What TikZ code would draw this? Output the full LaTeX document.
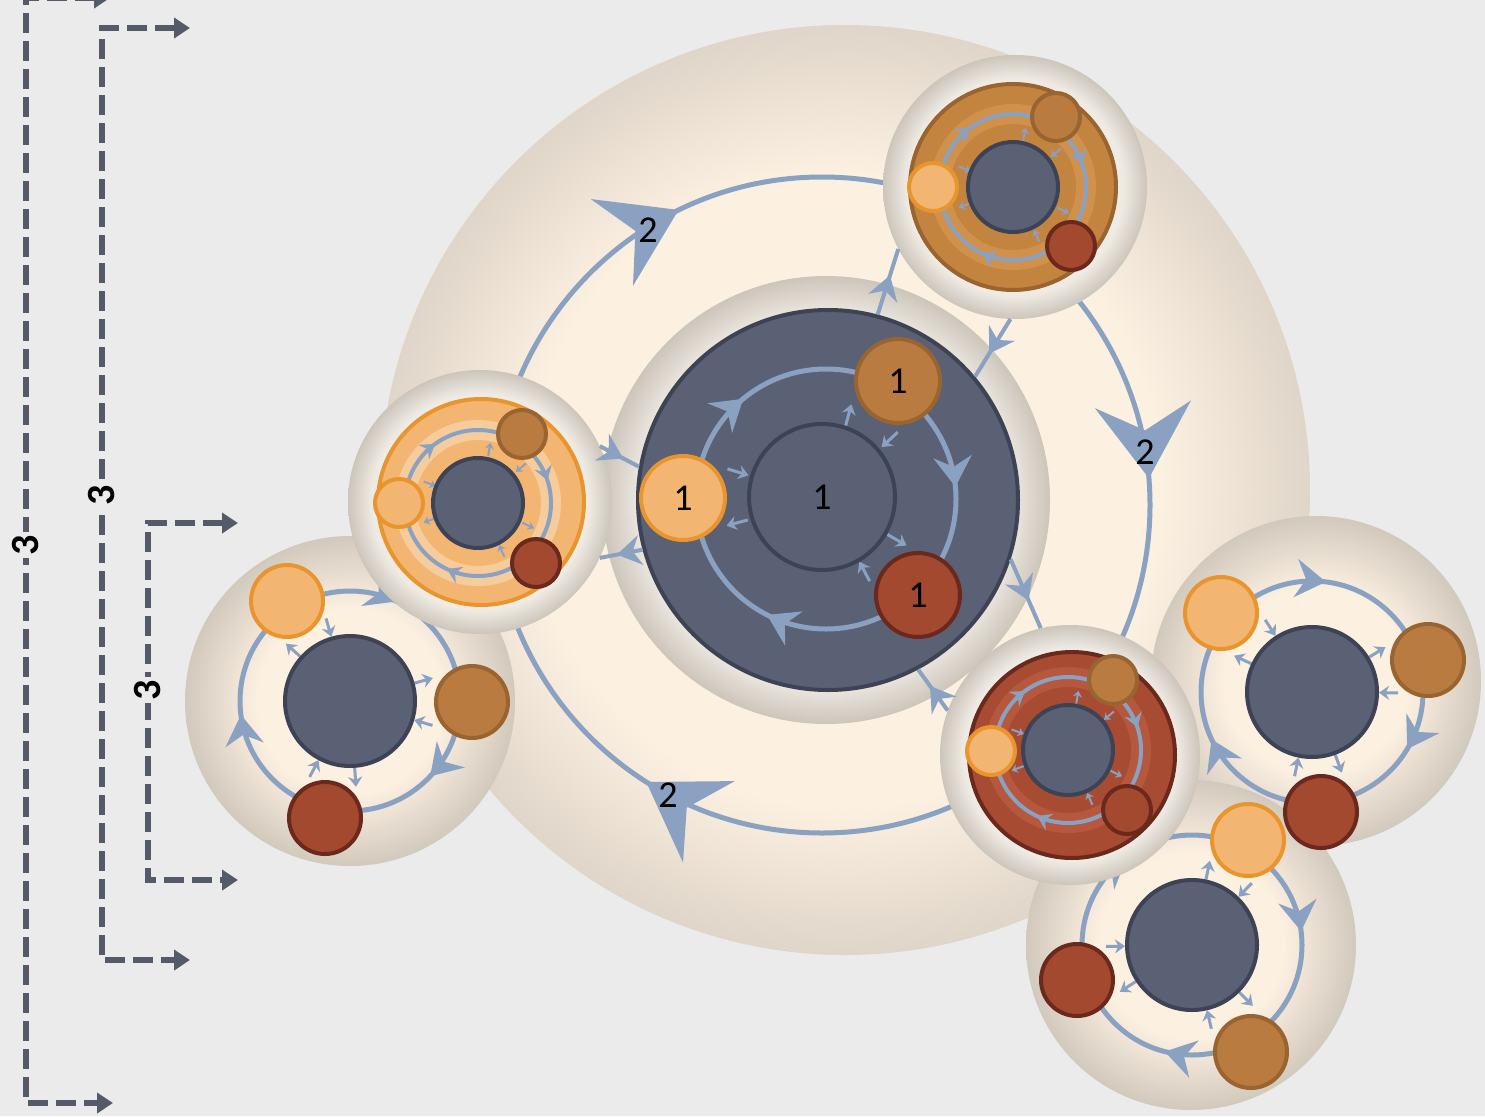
\documentclass[tikz,border=0pt]{standalone}
\usepackage{fontspec}
\setmainfont{Carlito}
\usepackage{tikz}
\usetikzlibrary{arrows.meta,decorations.markings}

\definecolor{bggray}{HTML}{EBEBEB}
\definecolor{slate}{HTML}{5A6174}
\definecolor{slateedge}{HTML}{3D4354}
\definecolor{orbitblue}{HTML}{8AA1C2}
\definecolor{lightfill}{HTML}{F3B672}
\definecolor{lightedge}{HTML}{E9952E}
\definecolor{brownfill}{HTML}{B97B3F}
\definecolor{brownedge}{HTML}{9A6430}
\definecolor{rustfill}{HTML}{A24930}
\definecolor{rustedge}{HTML}{6B281C}
\definecolor{ochre}{HTML}{C3843F}
\definecolor{brick}{HTML}{A84B33}
\definecolor{brickband}{HTML}{B5583D}
\definecolor{cream}{HTML}{FCF0E1}
\definecolor{creamedge}{HTML}{D2C9BD}
\definecolor{worldedge}{HTML}{DFD5C8}
\definecolor{ringin}{HTML}{EFEBE4}
\definecolor{ringout}{HTML}{CCC5BA}
\definecolor{dashgray}{HTML}{555A68}

\pgfdeclareradialshading{sphere}{\pgfpoint{0bp}{0bp}}{color(0bp)=(cream); color(14bp)=(cream); color(25bp)=(creamedge); color(50bp)=(creamedge)}
\pgfdeclareradialshading{worldshade}{\pgfpoint{0bp}{0bp}}{color(0bp)=(cream); color(17bp)=(cream); color(25bp)=(worldedge); color(50bp)=(worldedge)}
\pgfdeclareradialshading{ringshade}{\pgfpoint{0bp}{0bp}}{color(0bp)=(ringin); color(20.5bp)=(ringin); color(25bp)=(ringout); color(50bp)=(ringout)}

\begin{document}
\begin{tikzpicture}[x=1pt,y=-1pt,
  every node/.style={font=\fontsize{38}{40}\selectfont},
  sphereball/.style={circle,shade,shading=sphere,inner sep=0pt},
  ringball/.style={circle,shade,shading=ringshade,inner sep=0pt},
  hubdisc/.style={circle,draw=slateedge,fill=slate,line width=4pt,inner sep=0pt},
  lightsat/.style={circle,draw=lightedge,fill=lightfill,line width=4pt,inner sep=0pt},
  brownsat/.style={circle,draw=brownedge,fill=brownfill,line width=4pt,inner sep=0pt},
  rustsat/.style={circle,draw=rustedge,fill=rustfill,line width=4pt,inner sep=0pt},
  orbitline/.style={orbitblue,line width=5pt},
  orbitarrows/.style n args={4}{postaction={decorate,decoration={markings,
    mark=at position #1 with {\arrow{#4}},
    mark=at position #2 with {\arrow{#4}},
    mark=at position #3 with {\arrow{#4}}}}},
  hugetip/.tip={Stealth[length=74pt,width=96pt,inset=26pt]},
  bigtip/.tip={Stealth[length=30pt,width=38pt,inset=10pt]},
  midtip/.tip={Stealth[length=24pt,width=30pt,inset=8pt]},
  smalltip/.tip={Stealth[length=14pt,width=18pt,inset=5pt]},
  swaparrow/.style={orbitblue,line width=3pt,-{Stealth[length=10pt,width=14pt]}},
  tinyswap/.style={orbitblue,line width=2pt,-{Stealth[length=6pt,width=9pt]}},
  linkarrow/.style={orbitblue,line width=4pt,postaction={decorate,decoration={markings,mark=at position 0.6 with {\arrow{midtip}}}}},
  bracket/.style={dashgray,line width=6pt,dash pattern=on 20pt off 8pt,{Triangle[length=16pt,width=20pt]}-{Triangle[length=16pt,width=20pt]}},
  bracketlabel/.style={fill=bggray,inner sep=3pt,rotate=90,font=\fontsize{40}{42}\selectfont\bfseries}
]
\useasboundingbox (0,0) rectangle (1485,1116);
\fill[bggray] (0,0) rectangle (1485,1116);

% outer level
\node[circle,shade,shading=worldshade,inner sep=0pt,minimum size=930] (world) at (845,490) {};
\draw[orbitline,orbitarrows={0.340}{0.678}{0.987}{hugetip}] (822,505) circle (328);
\node (two1) at (648,230) {2};
\node (two2) at (1145,452) {2};
\node (two3) at (668,795) {2};

% left outer group
\begin{scope}[shift={(350,701)}]
\node[sphereball,minimum size=330] (lball) at (0,0) {};
\draw[orbitline,orbitarrows={0.12}{0.48}{0.82}{bigtip}] (0,0) circle (110);
\foreach \a in {237.8,0.5,102}{
  \draw[swaparrow] ({\a+16}:86) -- ({\a+16}:67);
  \draw[swaparrow] ({\a-16}:67) -- ({\a-16}:86);
}
\node[hubdisc,minimum size=130] (lhub) at (0,0) {};
\node[lightsat,minimum size=72] (llight) at (-63,-100) {};
\node[brownsat,minimum size=72] (lbrown) at (122,1) {};
\node[rustsat,minimum size=72] (lrust) at (-25,117) {};
\end{scope}

% right and bottom outer groups
\node[sphereball,minimum size=330] (rball) at (1316,681) {};
\node[sphereball,minimum size=330] (bball) at (1191,945) {};
\begin{scope}[shift={(1312,692)}]
\draw[orbitline,orbitarrows={0.086}{0.43}{0.77}{bigtip}] (0,0) circle (111);
\foreach \a in {221,344.6,85.7}{
  \draw[swaparrow] ({\a+16}:86) -- ({\a+16}:67);
  \draw[swaparrow] ({\a-16}:67) -- ({\a-16}:86);
}
\node[hubdisc,minimum size=130] (rhub) at (0,0) {};
\node[lightsat,minimum size=72] (rlight) at (-91,-79) {};
\node[brownsat,minimum size=72] (rbrown) at (116,-32) {};
\node[rustsat,minimum size=72] (rrust) at (9,120) {};
\end{scope}
\begin{scope}[shift={(1192,945)}]
\draw[orbitline,orbitarrows={0.29}{0.65}{0.98}{bigtip}] (0,0) circle (110);
\foreach \a in {298,163,61}{
  \draw[swaparrow] ({\a+16}:86) -- ({\a+16}:67);
  \draw[swaparrow] ({\a-16}:67) -- ({\a-16}:86);
}
\node[hubdisc,minimum size=130] (bhub) at (0,0) {};
\node[lightsat,minimum size=72] (blight) at (56,-105) {};
\node[rustsat,minimum size=72] (brust) at (-115,35) {};
\node[brownsat,minimum size=72] (bbrown) at (59,107) {};
\end{scope}

% centre group
\node[ringball,minimum size=448] (hubring) at (826,500) {};
\node[hubdisc,minimum size=380] (hub) at (828,500) {};
\draw[orbitline,orbitarrows={0.325}{0.64}{0.985}{bigtip}] (826,499) circle (130);
\begin{scope}[shift={(826,499)}]
\foreach \a/\d in {181/143,301/138,46/133}{
  \draw[swaparrow] ({\a+16}:{\d-40}) -- ({\a+16}:{\d-62});
  \draw[swaparrow] ({\a-16}:{\d-62}) -- ({\a-16}:{\d-40});
}
\end{scope}
\node[hubdisc,minimum size=146] (core) at (822,497) {1};
\node[lightsat,minimum size=84] (clight) at (683,498) {1};
\node[brownsat,minimum size=84] (cbrown) at (898,381) {1};
\node[rustsat,minimum size=84] (crust) at (918,595) {1};

% top right ring
\begin{scope}[shift={(1015,187)}]
\node[ringball,minimum size=264] (trring) at (0,0) {};
\node[circle,draw=brownedge,fill=ochre,line width=4pt,minimum size=206] (trdisc) at (-2,0) {};
\draw[ochre!75!lightfill,line width=20pt] (-2,0) circle (73);
\draw[orbitline,line width=4pt,orbitarrows={0.32}{0.65}{0.95}{smalltip}] (-2,0) circle (73);
\foreach \a in {180,300,46}{
  \draw[tinyswap] ({\a+20}:60) -- ({\a+20}:47);
  \draw[tinyswap] ({\a-20}:47) -- ({\a-20}:60);
}
\node[hubdisc,minimum size=90] (trhub) at (-2,0) {};
\node[lightsat,minimum size=48] (trlight) at (-82,0) {};
\node[brownsat,minimum size=48] (trbrown) at (41,-70) {};
\node[rustsat,minimum size=48] (trrust) at (56,59) {};
\end{scope}

% left ring
\begin{scope}[shift={(480,502)}]
\node[ringball,minimum size=264] (lfring) at (0,0) {};
\node[lightsat,minimum size=206] (lfdisc) at (1,0) {};
\draw[lightfill!70!white,line width=20pt] (-2,1) circle (73);
\draw[orbitline,line width=4pt,orbitarrows={0.32}{0.65}{0.95}{smalltip}] (-2,1) circle (73);
\foreach \a in {180,300,46}{
  \draw[tinyswap] ({\a+20}:60) -- ({\a+20}:47);
  \draw[tinyswap] ({\a-20}:47) -- ({\a-20}:60);
}
\node[hubdisc,minimum size=90] (lfhub) at (-2,1) {};
\node[lightsat,minimum size=48] (lflight) at (-81,1) {};
\node[brownsat,minimum size=48] (lfbrown) at (42,-68) {};
\node[rustsat,minimum size=48] (lfrust) at (56,61) {};
\end{scope}

% bottom right ring
\begin{scope}[shift={(1070,755)}]
\node[ringball,minimum size=260] (bring) at (0,0) {};
\node[circle,draw=rustedge,fill=brick,line width=4pt,minimum size=206] (bdisc) at (2,0) {};
\draw[brickband,line width=20pt] (-2,-5) circle (73);
\draw[orbitline,line width=4pt,orbitarrows={0.32}{0.65}{0.95}{smalltip}] (-2,-5) circle (73);
\foreach \a in {180,300,46}{
  \draw[tinyswap,shift={(-2,-5)}] ({\a+20}:60) -- ({\a+20}:47);
  \draw[tinyswap,shift={(-2,-5)}] ({\a-20}:47) -- ({\a-20}:60);
}
\node[hubdisc,minimum size=90] (bhubm) at (-2,-5) {};
\node[lightsat,minimum size=48] (blightm) at (-79,-4) {};
\node[brownsat,minimum size=48] (bbrownm) at (43,-75) {};
\node[rustsat,minimum size=48] (brustm) at (57,55) {};
\end{scope}

% links between centre and rings
\draw[linkarrow] (hub.75) -- (trring.208);
\draw[linkarrow] (trring.268) -- (hub.40);
\draw[linkarrow] (lfring.25) -- (hub.170);
\draw[linkarrow] (hub.195) -- (lfring.-25);
\draw[linkarrow] (hub.-18) -- (bring.103);
\draw[linkarrow] (bring.160) -- (hub.-62);

% nesting brackets
\coordinate (aT) at (110,-2);
\coordinate (aTc) at (26,-2);
\coordinate (aBc) at (26,1103);
\coordinate (aB) at (113,1103);
\draw[bracket] (aT) -- (aTc) -- (aBc) -- (aB);
\node[bracketlabel] (three1) at (26,545) {3};
\coordinate (bT) at (190,28);
\coordinate (bTc) at (102,28);
\coordinate (bBc) at (102,960);
\coordinate (bB) at (190,960);
\draw[bracket] (bT) -- (bTc) -- (bBc) -- (bB);
\node[bracketlabel] (three2) at (102,495) {3};
\coordinate (cT) at (238,523);
\coordinate (cTc) at (148,523);
\coordinate (cBc) at (148,880);
\coordinate (cB) at (238,880);
\draw[bracket] (cT) -- (cTc) -- (cBc) -- (cB);
\node[bracketlabel] (three3) at (148,690) {3};
\end{tikzpicture}
\end{document}
